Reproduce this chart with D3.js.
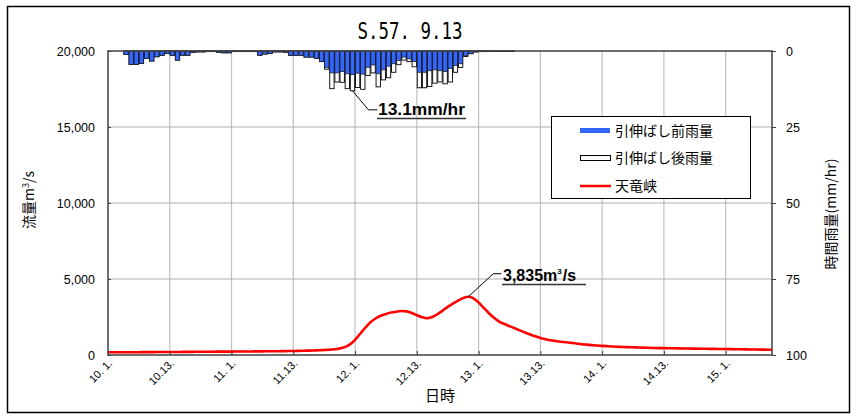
<!DOCTYPE html>
<html><head><meta charset="utf-8">
<script src="https://cdn.jsdelivr.net/npm/d3@7"></script>
<style>body{margin:0;background:#fff}</style>
</head><body><svg id="c" width="856" height="417"></svg>
<script>
const titleText = "S.57. 9.13";
const xTickHours = [0,12,24,36,48,60,72,84,96,108,120];
const xTickLabels = ["10. 1.","10.13.","11. 1.","11.13.","12. 1.","12.13.","13. 1.","13.13.","14. 1.","14.13.","15. 1."];
const flowTicks = [0,5000,10000,15000,20000];
const rainTicks = [0,25,50,75,100];
const legendLabels = ["引伸ばし前雨量","引伸ばし後雨量","天竜峡"];
// hourly rainfall (mm/hr), hour 0 = 10日1時
const rainBefore = [0,0,0,1.1,4.4,4.4,4.1,2.5,3.3,1.9,
  1.4,0.8,1.4,3.0,1.4,1.4,0.5,0.3,0.3,0.2,
  0.2,0.4,0.6,0.6,0.2,0.1,0.2,0.2,0.2,1.4,
  1.0,0.8,0.3,0.3,0.4,1.4,1.4,1.4,2.0,2.0,
  2.4,3.5,5.5,7.2,7.2,6.8,7.5,7.8,7.3,7.6,
  5.4,4.6,7.5,6.2,5.0,4.2,3.1,2.0,2.6,3.5,
  7.0,7.0,6.5,6.2,6.5,6.8,5.8,4.8,4.2,1.5,
  0.8,0.3,0.2,0.2,0.1,0.1,0.1,0.1,0.1];
const rainAfter = [0,0,0,1.1,4.4,4.4,4.1,2.5,3.3,1.9,
  1.4,0.8,1.4,3.0,1.4,1.4,0.5,0.3,0.3,0.2,
  0.2,0.4,0.6,0.6,0.2,0.1,0.2,0.2,0.2,1.4,
  1.0,0.8,0.3,0.3,0.4,1.4,1.4,1.4,2.0,2.0,
  2.4,3.5,6.0,12.4,10.2,10.3,12.4,13.1,12.0,12.6,
  8.1,7.2,11.8,9.5,8.8,7.0,4.5,3.0,3.5,5.2,
  12.1,12.1,11.7,10.6,10.2,10.8,10.2,7.0,5.4,1.8,
  0.9,0.3,0.2,0.2,0.1,0.1,0.1,0.1,0.1];
// hourly discharge (m3/s) at 天竜峡
const flow = [180,180,180,180,185,185,185,190,190,190,
  195,195,200,200,200,205,205,210,210,215,
  215,220,220,225,225,230,230,235,235,240,
  240,245,250,250,255,260,265,270,280,290,
  300,310,330,350,380,430,520,700,1000,1400,
  1800,2150,2400,2580,2700,2790,2850,2890,2870,2760,
  2620,2490,2420,2500,2680,2920,3170,3380,3580,3740,
  3835,3730,3450,3100,2750,2450,2200,2040,1900,1760,
  1620,1480,1350,1230,1120,1040,970,920,875,840,
  800,760,710,680,650,620,600,580,560,545,
  530,515,505,495,485,475,465,455,450,445,
  440,435,430,425,420,415,410,405,400,395,
  390,385,380,375,370,365,360,355,350,345];
const peakFlowText = "3,835";
const maxRainLabel = "13.1mm/hr";

const svg = d3.select("#c");
const L=108, R=772, T=51, B=355;
const x = d3.scaleLinear().domain([0,129]).range([L,R]);
const y = d3.scaleLinear().domain([0,20000]).range([B,T]);
const yr = d3.scaleLinear().domain([0,100]).range([T,B]);
const jp = "'Noto Sans CJK JP', sans-serif";
const lat = "'Liberation Sans', Arial, sans-serif";

svg.append("rect").attr("x",7.5).attr("y",6.5).attr("width",842).attr("height",406)
  .attr("fill","#fff").attr("stroke","#000").attr("stroke-width",1.5);

svg.append("text").attr("x",410).attr("y",39).attr("text-anchor","middle")
  .attr("font-family","'DejaVu Sans Mono', monospace").attr("font-size",23)
  .attr("textLength",105).attr("lengthAdjust","spacingAndGlyphs").text(titleText);

// grid
const g = svg.append("g");
g.selectAll("line.v").data(xTickHours.slice(1)).join("line")
  .attr("x1",d=>x(d)).attr("x2",d=>x(d)).attr("y1",T).attr("y2",B)
  .attr("stroke","#c0c0c0").attr("stroke-width",1.2);
g.selectAll("line.h").data(flowTicks.slice(1,-1)).join("line")
  .attr("x1",L).attr("x2",R).attr("y1",d=>y(d)).attr("y2",d=>y(d))
  .attr("stroke","#b0b0b0").attr("stroke-width",1.2);

// rain bars
const bw = x(1)-x(0);
svg.append("g").selectAll("rect").data(rainAfter).join("rect")
  .attr("x",(d,i)=>x(i)+0.4).attr("width",bw-0.8)
  .attr("y",yr(0)).attr("height",d=>yr(d)-yr(0))
  .attr("fill","#fff").attr("stroke","#000").attr("stroke-width",0.9);
svg.append("g").selectAll("rect").data(rainBefore).join("rect")
  .attr("x",(d,i)=>x(i)+0.4).attr("width",bw-0.8)
  .attr("y",yr(0)).attr("height",d=>yr(d)-yr(0))
  .attr("fill","#3366ff").attr("stroke","#1a1a1a").attr("stroke-width",0.7);

// flow line
svg.append("path").datum(flow)
  .attr("d",d3.line().x((d,i)=>x(i)).y(d=>y(d)).curve(d3.curveMonotoneX))
  .attr("fill","none").attr("stroke","#ff0000").attr("stroke-width",2.6);

// frame
svg.append("rect").attr("x",L).attr("y",T).attr("width",R-L).attr("height",B-T)
  .attr("fill","none").attr("stroke","#404040").attr("stroke-width",1.5);

// axes
const ax = svg.append("g").attr("transform",`translate(0,${B})`)
  .call(d3.axisBottom(x).tickValues(xTickHours).tickSize(-4).tickFormat(""));
ax.select(".domain").remove();
ax.selectAll("line").attr("stroke","#404040");
svg.append("g").selectAll("text").data(xTickHours).join("text")
  .attr("transform",d=>`translate(${x(d)+5},${B+9}) rotate(-45)`)
  .attr("text-anchor","end").attr("font-family",lat).attr("font-size",11)
  .text((d,i)=>xTickLabels[i]);

const ay = svg.append("g").attr("transform",`translate(${L},0)`)
  .call(d3.axisLeft(y).tickValues(flowTicks).tickSize(-3).tickPadding(13).tickFormat(d3.format(",")));
ay.select(".domain").remove();
ay.selectAll("line").attr("stroke","#404040");
ay.selectAll("text").attr("font-family",lat).attr("font-size",12.5).attr("fill","#000");

const ar = svg.append("g").attr("transform",`translate(${R},0)`)
  .call(d3.axisRight(yr).tickValues(rainTicks).tickSize(4).tickPadding(10));
ar.select(".domain").remove();
ar.selectAll("line").attr("stroke","#404040");
ar.selectAll("text").attr("font-family",lat).attr("font-size",12.5).attr("fill","#000");

// axis titles
const lt = svg.append("text").attr("transform","translate(34,200) rotate(-90)")
  .attr("text-anchor","middle").attr("font-family",jp).attr("font-size",14);
lt.append("tspan").text("流量m");
lt.append("tspan").attr("dy",-5).attr("font-size",9).text("3");
lt.append("tspan").attr("dy",5).text("/s");
svg.append("text").attr("transform","translate(836,214) rotate(-90)")
  .attr("text-anchor","middle").attr("font-family",jp).attr("font-size",14)
  .text("時間雨量(mm/hr)");
svg.append("text").attr("x",440).attr("y",401).attr("text-anchor","middle")
  .attr("font-family",jp).attr("font-size",15).text("日時");

// legend
const lg = svg.append("g");
lg.append("rect").attr("x",551.5).attr("y",116.5).attr("width",199).attr("height",82)
  .attr("fill","#fff").attr("stroke","#000").attr("stroke-width",1);
const ly = [131,158,186];
lg.append("rect").attr("x",580).attr("y",ly[0]-3).attr("width",30).attr("height",5).attr("fill","#3366ff");
lg.append("rect").attr("x",580.5).attr("y",ly[1]-2.5).attr("width",30).attr("height",5).attr("fill","#fff").attr("stroke","#000");
lg.append("line").attr("x1",580).attr("x2",611).attr("y1",ly[2]).attr("y2",ly[2]).attr("stroke","#ff0000").attr("stroke-width",2.5);
lg.selectAll("text").data(legendLabels).join("text")
  .attr("x",615).attr("y",(d,i)=>ly[i]+5).attr("font-family",jp).attr("font-size",14).text(d=>d);

// annotations
const iMax = rainAfter.indexOf(d3.max(rainAfter));
const ax1 = x(iMax)+bw/2, ay1 = yr(rainAfter[iMax]);
svg.append("polyline").attr("points",`${ax1},${ay1} ${ax1+16},${ay1+19} ${ax1+25},${ay1+19}`)
  .attr("fill","none").attr("stroke","#000").attr("stroke-width",1);
svg.append("text").attr("x",378).attr("y",115).attr("font-family",lat).attr("font-weight","bold")
  .attr("font-size",16).attr("textLength",87).attr("lengthAdjust","spacingAndGlyphs").text(maxRainLabel);
svg.append("line").attr("x1",377).attr("x2",466).attr("y1",118.5).attr("y2",118.5).attr("stroke","#333").attr("stroke-width",1.5);

const iPk = flow.indexOf(d3.max(flow));
const px = x(iPk), py = y(flow[iPk]);
svg.append("polyline").attr("points",`${px},${py} ${px+25},${py-23} ${px+33},${py-23}`)
  .attr("fill","none").attr("stroke","#000").attr("stroke-width",1);
const pt = svg.append("text").attr("x",503).attr("y",281).attr("font-family",lat).attr("font-weight","bold")
  .attr("font-size",16);
pt.append("tspan").text(peakFlowText + "m");
pt.append("tspan").attr("dy",-7).attr("font-size",8).text("3");
pt.append("tspan").attr("dx",1).attr("dy",7).text("/s");
svg.append("line").attr("x1",502).attr("x2",586).attr("y1",284.5).attr("y2",284.5).attr("stroke","#333").attr("stroke-width",1.5);
</script></body></html>
